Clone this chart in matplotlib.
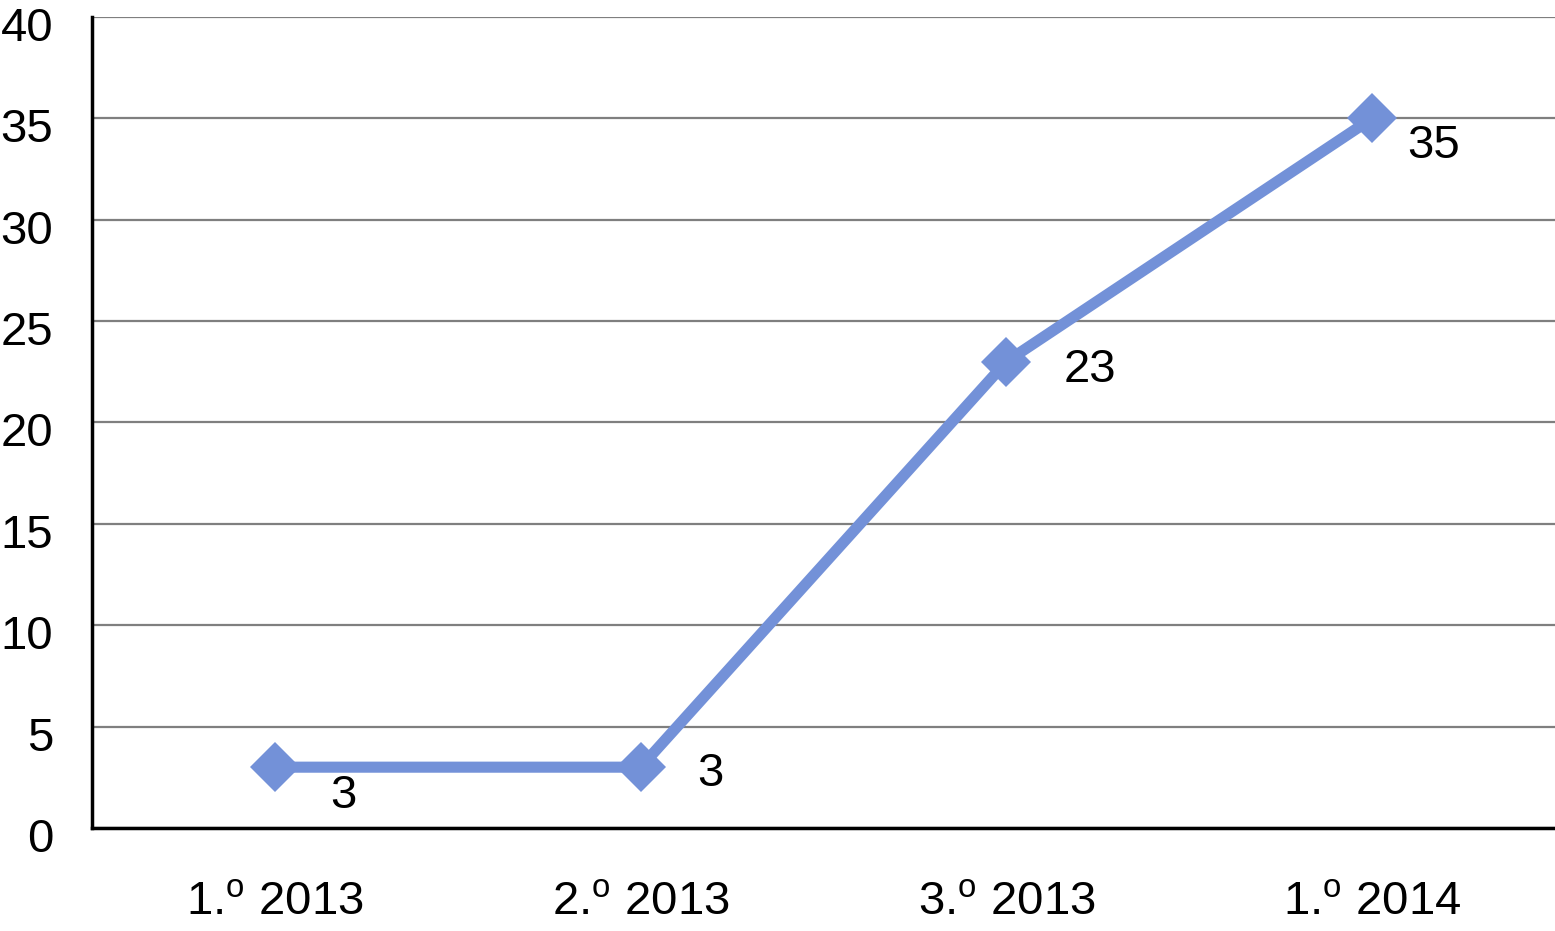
import matplotlib
matplotlib.use('Agg')
import matplotlib.pyplot as plt
from matplotlib.transforms import ScaledTranslation

# data
categories = ['1.$^\\mathregular{o}$ 2013', '2.$^\\mathregular{o}$ 2013',
              '3.$^\\mathregular{o}$ 2013', '1.$^\\mathregular{o}$ 2014']
values = [3, 3, 23, 35]
# label offsets (points) from each marker
label_dx = [40, 41, 41, 25]
label_dy = [-21, -5, -6, -20]

plt.rcParams['font.family'] = ['Liberation Sans', 'DejaVu Sans']

fig = plt.figure(figsize=(15.55, 9.31), dpi=100)
ax = fig.add_axes([92 / 1555, 103 / 931, 1 - 92 / 1555, 811 / 931])

line_color = '#7391d8'
x = list(range(len(categories)))
ax.plot(x, values, color=line_color, lw=8, marker='D', markersize=25,
        markeredgewidth=0, solid_capstyle='butt', zorder=3, clip_on=False)

for i, v in enumerate(values):
    ax.annotate(str(v), (x[i], v), xytext=(label_dx[i], label_dy[i]),
                textcoords='offset points', fontsize=34, ha='left', va='center')

ax.set_xlim(-0.5, len(categories) - 0.5)
ax.set_ylim(0, 40)
ax.set_yticks(range(0, 41, 5))
ax.set_xticks(x)
ax.set_xticklabels(categories)

ax.yaxis.grid(True, color='#7f7f7f', lw=1.6)
ax.set_axisbelow(True)
for s in ['top', 'right']:
    ax.spines[s].set_visible(False)
ax.spines['left'].set_linewidth(2.5)
ax.spines['bottom'].set_linewidth(2.5)

ax.tick_params(axis='y', length=0, labelsize=34, pad=28)
ax.tick_params(axis='x', length=0, labelsize=34, pad=38)

# y labels sit a little below their gridlines in the original
shift = ScaledTranslation(0, -5 / 72, fig.dpi_scale_trans)
for lab in ax.get_yticklabels():
    lab.set_transform(lab.get_transform() + shift)

fig.savefig('out.png', dpi=100)
